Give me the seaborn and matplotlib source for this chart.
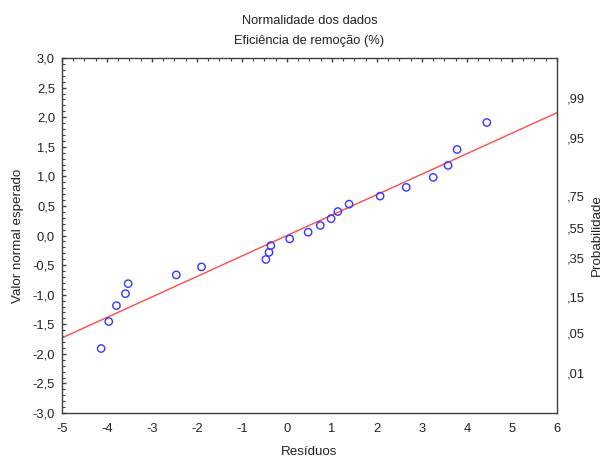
import numpy as np
import pandas as pd
import matplotlib
matplotlib.use("Agg")
import matplotlib.pyplot as plt
import seaborn as sns
from matplotlib.ticker import MultipleLocator, FixedLocator, FuncFormatter

# Residuals and their expected normal values
residuos = [-4.13, -3.96, -3.79, -3.59, -3.53, -2.46, -1.90, -0.47, -0.40, -0.36, 0.06,
            0.47, 0.74, 0.98, 1.13, 1.38, 2.07, 2.65, 3.25, 3.58, 3.78, 4.44]
valor_esperado = [-1.910, -1.454, -1.185, -0.983, -0.814, -0.666, -0.530, -0.405, -0.285, -0.170, -0.056,
                  0.056, 0.170, 0.285, 0.405, 0.530, 0.666, 0.814, 0.983, 1.185, 1.454, 1.910]

# Reference line (expected value vs residual)
linha_x = [-5.0, 6.0]
linha_inclinacao = 0.346
linha_intercepto = 0.0

# Probability scale on the right axis
prob_labels = [",01", ",05", ",15", ",35", ",55", ",75", ",95", ",99"]
prob_z = [-2.326, -1.645, -1.036, -0.385, 0.126, 0.674, 1.645, 2.326]

sns.set_style("white")
plt.rcParams["font.family"] = ["Liberation Sans", "DejaVu Sans"]
plt.rcParams["axes.unicode_minus"] = False

df = pd.DataFrame({"Resíduos": residuos, "Esperado": valor_esperado})
linha = pd.DataFrame({"x": linha_x,
                      "y": [linha_intercepto + linha_inclinacao * v for v in linha_x]})

fig = plt.figure(figsize=(6.06, 4.59), dpi=100)
ax = fig.add_axes([0.1023, 0.1002, 0.8168, 0.7734])

sns.lineplot(data=linha, x="x", y="y", ax=ax, color="#ff4a4a", linewidth=1.0)
sns.scatterplot(data=df, x="Resíduos", y="Esperado", ax=ax, s=28,
                facecolor="none", edgecolor="#3535ff", linewidth=1.0, zorder=3)

ax.set_xlim(-5, 6)
ax.set_ylim(-3, 3)
ax.xaxis.set_major_locator(MultipleLocator(1))
ax.xaxis.set_minor_locator(MultipleLocator(0.25))
ax.yaxis.set_major_locator(MultipleLocator(0.5))
ax.yaxis.set_minor_locator(MultipleLocator(0.1))
ax.yaxis.set_major_formatter(FuncFormatter(lambda v, p: f"{v:.1f}".replace(".", ",")))
ax.xaxis.set_major_formatter(FuncFormatter(lambda v, p: f"{v:.0f}"))

edge = "#404040"
txt = "#222222"
for s in ax.spines.values():
    s.set_color(edge)
    s.set_linewidth(1.0)
ax.tick_params(which="both", direction="in", top=True, right=True, color=edge,
               labelsize=9.3, labelcolor=txt)
ax.tick_params(which="major", length=3, width=1.0, pad=5)
ax.tick_params(which="minor", length=2, width=0.8)
ax.tick_params(axis="x", which="major", pad=7)

ax.set_xlabel("Resíduos", fontsize=9.6, color=txt, labelpad=8)
ax.set_ylabel("Valor normal esperado", fontsize=9.6, color=txt, labelpad=6)
ax.set_title("Normalidade dos dados\nEficiência de remoção (%)", fontsize=9.3,
             color=txt, pad=10, linespacing=1.95)

ax2 = ax.twinx()
ax2.set_ylim(-3, 3)
ax2.yaxis.set_major_locator(FixedLocator(prob_z))
ax2.set_yticklabels(prob_labels)
ax2.tick_params(axis="y", length=0, pad=7, labelsize=9.3, labelcolor=txt)
ax2.set_ylabel("Probabilidade", fontsize=9.6, color=txt, labelpad=4)
for s in ax2.spines.values():
    s.set_visible(False)

fig.savefig("out.png", dpi=100, facecolor="white")
